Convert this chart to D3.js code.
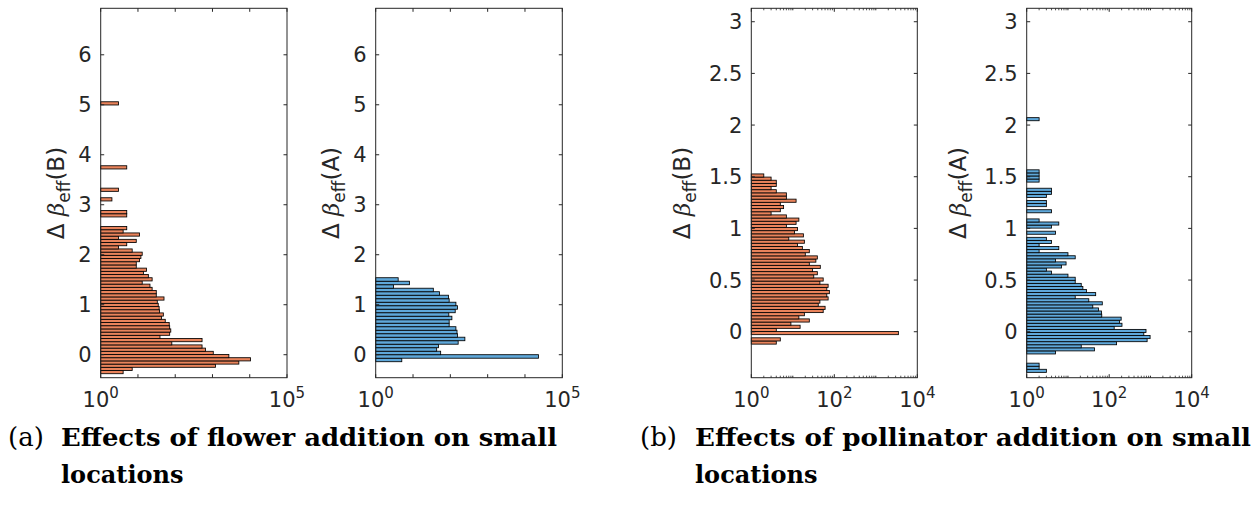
<!DOCTYPE html>
<html><head><meta charset="utf-8">
<script src="https://cdn.jsdelivr.net/npm/d3@7"></script>
<style>body{margin:0;background:#fff}</style>
</head><body>
<svg id="c" width="1256" height="512" xmlns="http://www.w3.org/2000/svg"></svg>
<script>
// ---------- DATA ----------
// Panel (a) left: Δβ_eff(B), flower addition — histogram counts per bin
const aB_start = -0.38, aB_binWidth = 0.064;
const aB_counts = [4,7,1200,5100,10500,2750,1050,650,525,81,525,39,71,76,71,69,54,43,48,38,37,35,33,50,31,31,24,21,13,24,19,14,17,9,9,11,12,13,7,3,5,9,3,11,4,5,
  0,0,0,5,5,0,0,0,2,0,0,3,0,0,0,0,0,0,5,0,0,0,0,0,0,0,0,0,0,0,0,0,0,0,0,0,0,0,3];
// Panel (a) right: Δβ_eff(A), flower addition
const aA_start = -0.14, aA_binWidth = 0.07;
const aA_counts = [5,23000,55,43,48,162,245,155,151,141,93,93,110,91,135,155,141,93,89,51,35,3,8,4];
// Panel (b) left: Δβ_eff(B), pollinator addition
const bB_start = -0.12, bB_binWidth = 0.0305;
const bB_counts = [4,5,0,3500,4,15,9,25,14,19,54,60,41,45,71,66,76,66,71,45,54,32,39,30,46,25,36,39,20,25,17,13,19,8,18,11,13,7,12,14,7,3,5,6,5,12,7,7,4,3,4,4,3,2];
// Panel (b) right: Δβ_eff(A), pollinator addition
const bA_start = -0.3934, bA_binWidth = 0.0297;
const bA_counts = [3,2,2,0,0,0,5,44,21,151,830,980,690,780,132,204,178,195,66,65,55,40,68,32,15,47,28,23,21,15,15,10,4,3,7,9,5,15,10,2,6,2,4,3,0,5,0,4,6,2,0,0,4,0,3,3,0,3,4,4,0,0,2,2,2,2,
  0,0,0,0,0,0,0,0,0,0,0,0,0,0,0,0,2];

const yTicksA = [0,1,2,3,4,5,6];
const yTicksB = [0,0.5,1,1.5,2,2.5,3];
const yTickLabelsB = ["0","0.5","1","1.5","2","2.5","3"];
const xLabelExpA = [0,5];
const xLabelExpB = [0,2,4];
const yLabelSuffix = ["B","A","B","A"];
const captions = [
  {tag:"(a)", title:"Effects of flower addition on small", line2:"locations"},
  {tag:"(b)", title:"Effects of pollinator addition on small", line2:"locations"}
];

// ---------- LAYOUT ----------
const svg = d3.select("#c");
const yTop = 8.3, yBottom = 377.7;
const axisColor = "#262626";
const orange = "#E9835B", blue = "#5FA8DA";

const panels = [
  {counts:aB_counts, start:aB_start, w:aB_binWidth, color:orange, x0:100.7, x1:287, ydom:[-0.46,6.93], yt:yTicksA, ytl:yTicksA.map(String), xmax:5, xlab:xLabelExpA, minor:false, suffix:yLabelSuffix[0], labOff:37},
  {counts:aA_counts, start:aA_start, w:aA_binWidth, color:blue, x0:375.7, x1:562.3, ydom:[-0.46,6.93], yt:yTicksA, ytl:yTicksA.map(String), xmax:5, xlab:xLabelExpA, minor:false, suffix:yLabelSuffix[1], labOff:37},
  {counts:bB_counts, start:bB_start, w:bB_binWidth, color:orange, x0:751.3, x1:917.3, ydom:[-0.445,3.13], yt:yTicksB, ytl:yTickLabelsB, xmax:4, xlab:xLabelExpB, minor:true, suffix:yLabelSuffix[2], labOff:61},
  {counts:bA_counts, start:bA_start, w:bA_binWidth, color:blue, x0:1026.7, x1:1191.7, ydom:[-0.445,3.13], yt:yTicksB, ytl:yTickLabelsB, xmax:4, xlab:xLabelExpB, minor:true, suffix:yLabelSuffix[3], labOff:61}
];

const fontSans = "DejaVu Sans, sans-serif";

panels.forEach(p => {
  const x = d3.scaleLog().domain([1, Math.pow(10,p.xmax)]).range([p.x0, p.x1]);
  const y = d3.scaleLinear().domain(p.ydom).range([yBottom, yTop]);
  const g = svg.append("g");
  const bins = p.counts.map((c,i) => ({c, lo:p.start + i*p.w, hi:p.start + (i+1)*p.w})).filter(d => d.c > 1);

  g.selectAll("rect.bar").data(bins).enter().append("rect")
    .attr("class","bar")
    .attr("x", x(1))
    .attr("y", d => y(d.hi))
    .attr("width", d => x(d.c) - x(1))
    .attr("height", d => y(d.lo) - y(d.hi))
    .attr("fill", p.color)
    .attr("stroke", "#000")
    .attr("stroke-width", 0.85);

  // box
  g.append("rect").attr("x", p.x0).attr("y", yTop).attr("width", p.x1-p.x0).attr("height", yBottom-yTop)
    .attr("fill","none").attr("stroke", axisColor).attr("stroke-width", 1);

  // y ticks (inward both sides)
  const tl = 3.5;
  p.yt.forEach((v,i) => {
    const yy = y(v);
    g.append("line").attr("x1",p.x0).attr("x2",p.x0+tl).attr("y1",yy).attr("y2",yy).attr("stroke",axisColor);
    g.append("line").attr("x1",p.x1).attr("x2",p.x1-tl).attr("y1",yy).attr("y2",yy).attr("stroke",axisColor);
    g.append("text").attr("x", p.x0-9).attr("y", yy).attr("dy","0.36em")
      .attr("text-anchor","end").attr("font-family",fontSans).attr("font-size",21).attr("fill",axisColor)
      .text(p.ytl[i]);
  });

  // x ticks
  for (let e = 0; e <= p.xmax; e++) {
    const major = !p.minor || p.xlab.includes(e);
    const len = major ? tl : 2;
    const xx = x(Math.pow(10,e));
    g.append("line").attr("x1",xx).attr("x2",xx).attr("y1",yBottom).attr("y2",yBottom-len).attr("stroke",axisColor);
    g.append("line").attr("x1",xx).attr("x2",xx).attr("y1",yTop).attr("y2",yTop+len).attr("stroke",axisColor);
    if (p.minor && e < p.xmax) {
      for (let m = 2; m <= 9; m++) {
        const xm = x(m*Math.pow(10,e));
        g.append("line").attr("x1",xm).attr("x2",xm).attr("y1",yBottom).attr("y2",yBottom-2).attr("stroke",axisColor).attr("stroke-width",0.8);
        g.append("line").attr("x1",xm).attr("x2",xm).attr("y1",yTop).attr("y2",yTop+2).attr("stroke",axisColor).attr("stroke-width",0.8);
      }
    }
  }
  p.xlab.forEach(e => {
    const t = g.append("text").attr("x", x(Math.pow(10,e))).attr("y", 407)
      .attr("text-anchor","middle").attr("font-family",fontSans).attr("font-size",21).attr("fill",axisColor);
    t.append("tspan").text("10");
    t.append("tspan").attr("dy",-9).attr("font-size",15).text(String(e));
  });

  // y label
  const cy = (yTop+yBottom)/2;
  const lab = g.append("text").attr("transform", `translate(${p.x0 - p.labOff},${cy}) rotate(-90)`)
    .attr("text-anchor","middle").attr("font-family",fontSans).attr("font-size",23).attr("fill",axisColor);
  lab.append("tspan").text("Δ ");
  lab.append("tspan").attr("font-family","DejaVu Serif, serif").attr("font-style","italic").text("β");
  lab.append("tspan").attr("dy",6).attr("font-size",17).text("eff");
  lab.append("tspan").attr("dy",-6).text("(" + p.suffix + ")");
});

// captions
const capPos = [{x:8, x2:61, w:496, y1:446, y2:483}, {x:640, x2:695, w:556, y1:446, y2:483}];
captions.forEach((c,i) => {
  const cp = capPos[i];
  svg.append("text").attr("x",cp.x).attr("y",cp.y1).attr("font-family","DejaVu Serif, serif").attr("font-size",26).attr("fill","#000").text(c.tag);
  svg.append("text").attr("x",cp.x2).attr("y",cp.y1).attr("font-family","DejaVu Serif, serif").attr("font-weight","bold").attr("font-size",24)
    .attr("fill","#000").attr("textLength", cp.w).attr("lengthAdjust","spacingAndGlyphs").text(c.title);
  svg.append("text").attr("x",cp.x2).attr("y",cp.y2).attr("font-family","DejaVu Serif, serif").attr("font-weight","bold").attr("font-size",24)
    .attr("fill","#000").text(c.line2);
});
</script>
</body></html>
